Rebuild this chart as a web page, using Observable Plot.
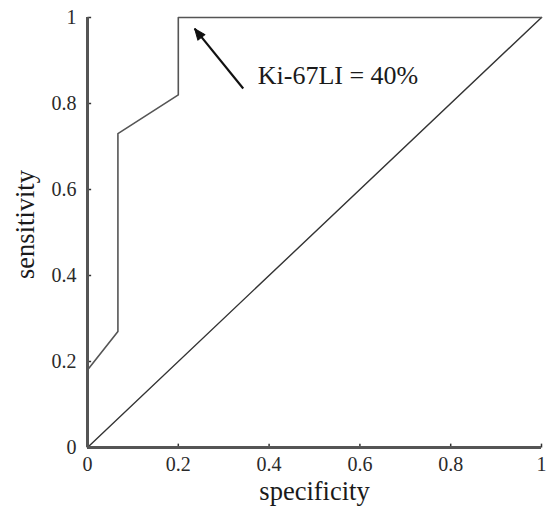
<!DOCTYPE html>
<html>
<head>
<meta charset="utf-8">
<script src="https://cdn.jsdelivr.net/npm/d3@7"></script>
<script src="https://cdn.jsdelivr.net/npm/@observablehq/plot@0.6"></script>
<style>
  body { margin: 0; background: #fff; }
  #chart svg { display: block; }
</style>
</head>
<body>
<div id="chart"></div>
<script>
// ROC curve
const rocX = [0, 0.067, 0.067, 0.2, 0.2, 1];
const rocY = [0.18, 0.27, 0.73, 0.82, 1, 1];
const diagX = [0, 1];
const diagY = [0, 1];
const ticks = [0, 0.2, 0.4, 0.6, 0.8, 1];
const annotation = {text: "Ki-67LI = 40%", x: 0.375, y: 0.865, x1: 0.343, y1: 0.835, x2: 0.236, y2: 0.974};

const roc = rocX.map((x, i) => ({x, y: rocY[i]}));
const diag = diagX.map((x, i) => ({x, y: diagY[i]}));

// filled triangular arrow head (tip at the vector's end)
const headShape = {
  draw(context, l) {
    const w = 4.5;
    context.moveTo(0, -l);
    context.lineTo(w, 0);
    context.lineTo(-w, 0);
    context.closePath();
  }
};

const serif = "'Liberation Serif', 'DejaVu Serif', serif";

const chart = Plot.plot({
  width: 548,
  height: 508,
  marginLeft: 87,
  marginRight: 7,
  marginTop: 17,
  marginBottom: 61,
  style: {fontFamily: serif, background: "#fff"},
  x: {domain: [0, 1]},
  y: {domain: [0, 1]},
  marks: [
    Plot.axisX(ticks, {tickSize: 0, tickPadding: 9, fontSize: 20, fill: "#2a2a2a", tickFormat: d => String(d), label: null}),
    Plot.axisY(ticks, {tickSize: 0, tickPadding: 11, fontSize: 20, fill: "#2a2a2a", tickFormat: d => String(d), label: null}),
    Plot.text(["specificity"], {frameAnchor: "bottom", dy: 52, fontSize: 26.5, fill: "#1a1a1a", text: d => d}),
    Plot.text(["sensitivity"], {frameAnchor: "left", textAnchor: "middle", dx: -62, dy: -8, rotate: -90, fontSize: 26.5, fill: "#1a1a1a", text: d => d}),
    Plot.link(ticks, {x1: d => d, x2: d => d, y1: 0, y2: 0.009, stroke: "#333", strokeWidth: 1.5}),
    Plot.link(ticks, {y1: d => d, y2: d => d, x1: 0, x2: 0.008, stroke: "#333", strokeWidth: 1.5}),
    Plot.line(diag, {x: "x", y: "y", stroke: "#333", strokeWidth: 1.4}),
    Plot.line(roc, {x: "x", y: "y", stroke: "#555", strokeWidth: 1.6}),
    Plot.ruleX([0], {stroke: "#555", strokeWidth: 3}),
    Plot.ruleY([0], {stroke: "#555", strokeWidth: 3}),
    Plot.link([annotation], {x1: "x1", y1: "y1", x2: "x2", y2: "y2", stroke: "#111", strokeWidth: 2.2}),
    Plot.vector([annotation], {x: "x2", y: "y2", length: 11, rotate: -38, anchor: "end", shape: headShape, fill: "#111", stroke: "#111", strokeWidth: 1}),
    Plot.text([annotation], {x: "x", y: "y", text: "text", textAnchor: "start", fontSize: 26, fill: "#1a1a1a"})
  ]
});
document.getElementById("chart").appendChild(chart);
</script>
</body>
</html>
